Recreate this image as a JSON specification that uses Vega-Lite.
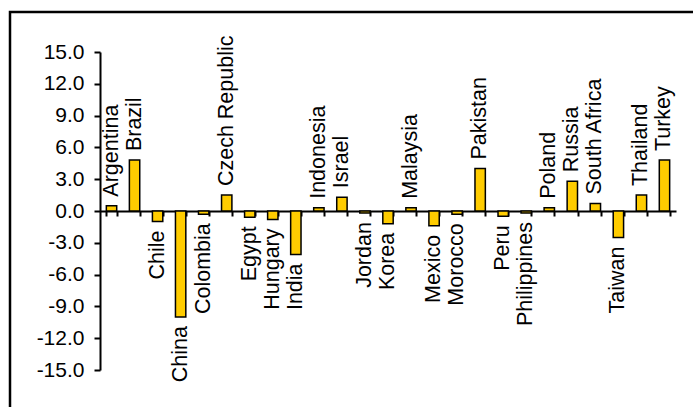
{
  "$schema": "https://vega.github.io/schema/vega-lite/v6.json",
  "autosize": {"type": "none"},
  "padding": {"left": 10, "top": 12, "right": 0, "bottom": 0},
  "width": 683,
  "height": 395,
  "background": "#ffffff",
  "config": {
    "view": {
      "stroke": "#000000",
      "strokeWidth": 2.5,
      "strokeDash": [683, 1078, 395, 0],
      "strokeCap": "square"
    }
  },
  "data": {
    "values": [
      {"country": "Argentina", "value": 0.5},
      {"country": "Brazil", "value": 4.8},
      {"country": "Chile", "value": -1.0},
      {"country": "China", "value": -10.0},
      {"country": "Colombia", "value": -0.3},
      {"country": "Czech Republic", "value": 1.5},
      {"country": "Egypt", "value": -0.6},
      {"country": "Hungary", "value": -0.8},
      {"country": "India", "value": -4.1},
      {"country": "Indonesia", "value": 0.3},
      {"country": "Israel", "value": 1.3},
      {"country": "Jordan", "value": -0.2},
      {"country": "Korea", "value": -1.2},
      {"country": "Malaysia", "value": 0.3},
      {"country": "Mexico", "value": -1.4},
      {"country": "Morocco", "value": -0.3},
      {"country": "Pakistan", "value": 4.0},
      {"country": "Peru", "value": -0.5},
      {"country": "Philippines", "value": -0.2},
      {"country": "Poland", "value": 0.3},
      {"country": "Russia", "value": 2.8},
      {"country": "South Africa", "value": 0.7},
      {"country": "Taiwan", "value": -2.5},
      {"country": "Thailand", "value": 1.5},
      {"country": "Turkey", "value": 4.8}
    ]
  },
  "encoding": {
    "x": {
      "field": "country",
      "type": "nominal",
      "sort": null,
      "scale": {"range": [90, 666], "paddingInner": 0.55, "paddingOuter": 0.275},
      "axis": {
        "orient": "bottom",
        "offset": -196,
        "labels": false,
        "title": null,
        "grid": false,
        "tickBand": "extent",
        "tickSize": 5,
        "tickWidth": 2,
        "tickColor": "#000000",
        "domainWidth": 2,
        "domainColor": "#000000"
      }
    },
    "y": {
      "field": "value",
      "type": "quantitative",
      "scale": {"domain": [-15, 15], "range": [358, 40], "nice": false, "zero": false},
      "axis": {
        "orient": "left",
        "offset": -90,
        "values": [-15, -12, -9, -6, -3, 0, 3, 6, 9, 12, 15],
        "labelExpr": "replace(format(datum.value, '.1f'), '\u2212', '-')",
        "title": null,
        "grid": false,
        "tickSize": 6,
        "tickWidth": 2,
        "tickColor": "#000000",
        "domainWidth": 2,
        "domainColor": "#000000",
        "labelFont": "Liberation Sans",
        "labelFontSize": 21,
        "labelColor": "#000000",
        "labelPadding": 10,
        "labelOverlap": false,
        "labelFlush": false
      }
    }
  },
  "layer": [
    {
      "mark": {"type": "bar", "fill": "#FFCC00", "stroke": "#000000", "strokeWidth": 1.5},
      "encoding": {"y2": {"datum": 0}}
    },
    {
      "transform": [{"filter": "datum.value >= 0"}],
      "mark": {
        "type": "text",
        "angle": 270,
        "align": "left",
        "baseline": "middle",
        "dx": 9,
        "font": "Liberation Sans",
        "fontSize": 21.5,
        "color": "#000000"
      },
      "encoding": {"text": {"field": "country"}}
    },
    {
      "transform": [{"filter": "datum.value < 0"}],
      "mark": {
        "type": "text",
        "angle": 270,
        "align": "right",
        "baseline": "middle",
        "dx": -9,
        "font": "Liberation Sans",
        "fontSize": 21.5,
        "color": "#000000"
      },
      "encoding": {"text": {"field": "country"}}
    }
  ]
}
